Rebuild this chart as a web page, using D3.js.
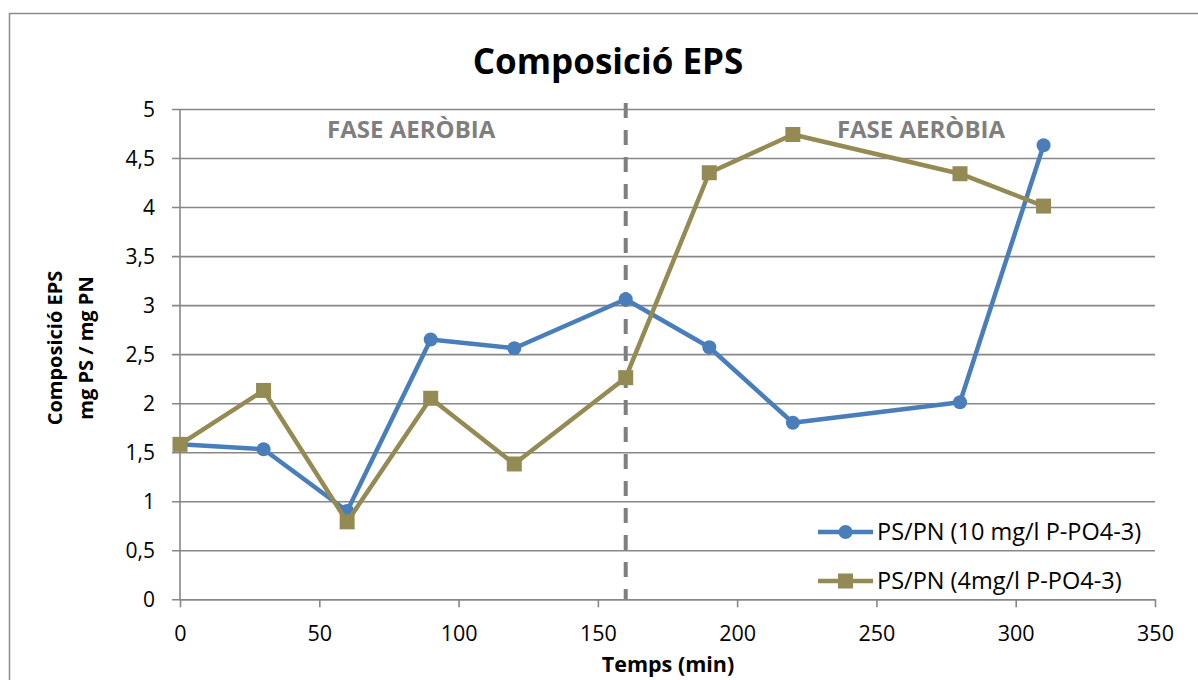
<!DOCTYPE html>
<html>
<head>
<meta charset="utf-8">
<script src="https://cdn.jsdelivr.net/npm/d3@7"></script>
<style>
  html, body { margin: 0; padding: 0; background: #fff; }
  svg { display: block; font-family: "Open Sans", "Liberation Sans", sans-serif; }
</style>
</head>
<body>
<svg id="chart" width="1198" height="680"></svg>
<script>
// Sampling times (min)
const times = [0, 30, 60, 90, 120, 160, 190, 220, 280, 310];
// PS/PN ratio, 10 mg/l P-PO4-3
const ratio10 = [1.58, 1.53, 0.90, 2.65, 2.56, 3.06, 2.57, 1.80, 2.01, 4.63];
// PS/PN ratio, 4 mg/l P-PO4-3
const ratio4 = [1.58, 2.13, 0.79, 2.05, 1.38, 2.26, 4.35, 4.74, 4.34, 4.01];
const seriesNames = ["PS/PN (10 mg/l P-PO4-3)", "PS/PN (4mg/l P-PO4-3)"];
const xTicks = [0, 50, 100, 150, 200, 250, 300, 350];
const yTicks = [0, 0.5, 1, 1.5, 2, 2.5, 3, 3.5, 4, 4.5, 5];
const phaseBoundary = 160;
const phaseLabels = ["FASE AERÒBIA", "FASE AERÒBIA"];
const phaseLabelX = [83, 266];

const svg = d3.select("#chart");
const margin = { left: 180, right: 43, top: 109, bottom: 80 };
const W = 1198, H = 680;

const x = d3.scaleLinear().domain([0, 350]).range([margin.left, W - margin.right]);
const y = d3.scaleLinear().domain([0, 5]).range([H - margin.bottom - 0.7, margin.top]);

const gridColor = "#878787";
const blue = "#4A7EBB";
const olive = "#948A54";

// outer chart frame
svg.append("rect")
  .attr("x", 9.5).attr("y", 13.5)
  .attr("width", 1250).attr("height", 720)
  .attr("fill", "none").attr("stroke", "#8c8c8c").attr("stroke-width", 1.5);

// title
svg.append("text")
  .attr("x", 608).attr("y", 74)
  .attr("text-anchor", "middle")
  .attr("font-size", 35).attr("font-weight", "bold")
  .attr("fill", "#000")
  .text("Composició EPS");

// horizontal grid + y axis ticks
const yAxis = d3.axisLeft(y).tickValues(yTicks)
  .tickSize(-(x(350) - x(0)))
  .tickSizeOuter(0)
  .tickFormat(d => String(d).replace(".", ","));
const gy = svg.append("g").attr("transform", `translate(${x(0)},0)`).call(yAxis);
gy.select(".domain").remove();
gy.selectAll(".tick line")
  .attr("x1", -8)
  .attr("stroke", gridColor).attr("stroke-width", 1.6);
gy.selectAll(".tick text")
  .attr("x", -25).attr("dy", "0.34em")
  .attr("font-size", 21).attr("fill", "#000")
  .attr("font-family", "Open Sans");

// y axis line
svg.append("line")
  .attr("x1", x(0)).attr("x2", x(0))
  .attr("y1", y(5)).attr("y2", y(0))
  .attr("stroke", gridColor).attr("stroke-width", 1.6);

// x axis
const xAxis = d3.axisBottom(x).tickValues(xTicks).tickSize(8).tickSizeOuter(0);
const gx = svg.append("g").attr("transform", `translate(0,${y(0)})`).call(xAxis);
gx.select(".domain").attr("stroke", gridColor).attr("stroke-width", 1.6);
gx.selectAll(".tick line").attr("stroke", gridColor).attr("stroke-width", 1.6);
gx.selectAll(".tick text")
  .attr("y", 26).attr("dy", "0.71em")
  .attr("font-size", 21.5).attr("fill", "#000")
  .attr("font-family", "Open Sans");

// phase boundary (dashed)
svg.append("line")
  .attr("x1", x(phaseBoundary)).attr("x2", x(phaseBoundary))
  .attr("y1", 103).attr("y2", y(0))
  .attr("stroke", "#7f7f7f").attr("stroke-width", 4)
  .attr("stroke-dasharray", "15,12");

// phase labels
phaseLabels.forEach((t, i) => {
  svg.append("text")
    .attr("x", x(phaseLabelX[i])).attr("y", 138)
    .attr("text-anchor", "middle")
    .attr("font-size", 24).attr("font-weight", "bold")
    .attr("fill", "#7f7f7f")
    .text(t);
});

// series
const line = d3.line().x(d => x(d[0])).y(d => y(d[1]));
const s10 = times.map((t, i) => [t, ratio10[i]]);
const s4 = times.map((t, i) => [t, ratio4[i]]);

svg.append("path").datum(s10)
  .attr("d", line).attr("fill", "none")
  .attr("stroke", blue).attr("stroke-width", 4.5).attr("stroke-linejoin", "round");
svg.selectAll("circle.m10").data(s10).enter().append("circle")
  .attr("class", "m10")
  .attr("cx", d => x(d[0])).attr("cy", d => y(d[1])).attr("r", 7)
  .attr("fill", blue);

svg.append("path").datum(s4)
  .attr("d", line).attr("fill", "none")
  .attr("stroke", olive).attr("stroke-width", 4.5).attr("stroke-linejoin", "round");
svg.selectAll("rect.m4").data(s4).enter().append("rect")
  .attr("class", "m4")
  .attr("x", d => x(d[0]) - 7.5).attr("y", d => y(d[1]) - 7.5)
  .attr("width", 15).attr("height", 15)
  .attr("fill", olive);

// legend
const legendY = [532, 581];
const legendColors = [blue, olive];
seriesNames.forEach((name, i) => {
  const g = svg.append("g").attr("transform", `translate(818,${legendY[i]})`);
  g.append("line").attr("x1", 0).attr("x2", 55).attr("y1", 0).attr("y2", 0)
    .attr("stroke", legendColors[i]).attr("stroke-width", 4.5);
  if (i === 0) {
    g.append("circle").attr("cx", 27.5).attr("cy", 0).attr("r", 7).attr("fill", blue);
  } else {
    g.append("rect").attr("x", 20).attr("y", -7.5).attr("width", 15).attr("height", 15).attr("fill", olive);
  }
  g.append("text").attr("x", 59).attr("y", 0).attr("dy", "0.36em")
    .attr("font-size", 23.5).attr("fill", "#000")
    .text(name);
});

// axis titles
svg.append("text")
  .attr("x", 668).attr("y", 672)
  .attr("text-anchor", "middle")
  .attr("font-size", 21.5).attr("font-weight", "bold")
  .text("Temps (min)");

const yTitle = svg.append("text")
  .attr("transform", "translate(0,348) rotate(-90)")
  .attr("text-anchor", "middle")
  .attr("font-size", 20).attr("font-weight", "bold");
yTitle.append("tspan").attr("x", 0).attr("y", 62).text("Composició EPS");
yTitle.append("tspan").attr("x", 0).attr("y", 93).text("mg PS / mg PN");
</script>
</body>
</html>
